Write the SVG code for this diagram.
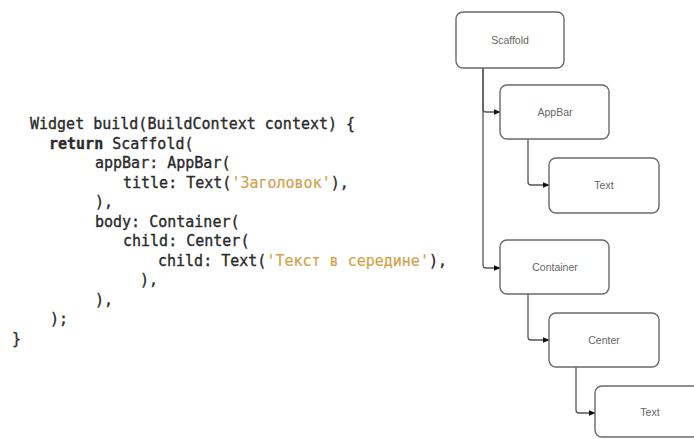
<svg xmlns="http://www.w3.org/2000/svg" width="694" height="439" viewBox="0 0 694 439">
<style>
.code{font-family:"DejaVu Sans Mono","Liberation Mono",monospace;font-size:15px;fill:#2b2b2b;stroke:#2b2b2b;stroke-width:0.35;white-space:pre}
.kw{font-weight:bold}
.str{fill:#d2a24c;stroke:#d2a24c;stroke-width:0.2}
.node rect{fill:#fff;stroke:#6a6a6a;stroke-width:1.4}
.node text{font-family:"Liberation Sans",Arial,sans-serif;font-size:10.5px;fill:#666;text-anchor:middle;dominant-baseline:central}
.edge{fill:none;stroke:#555;stroke-width:1.3}
</style>
<defs>
<marker id="arr" viewBox="0 0 10 10" refX="9" refY="5" markerWidth="7" markerHeight="7" orient="auto" markerUnits="userSpaceOnUse">
<path d="M0,1 L10,5 L0,9 Z" fill="#111"/>
</marker>
</defs>
<rect width="694" height="439" fill="#fff"/>
<g id="code">
<text class="code" x="30" y="129">Widget build(BuildContext context) {</text>
<text class="code" x="49" y="148.5"><tspan class="kw">return</tspan> Scaffold(</text>
<text class="code" x="95" y="168">appBar: AppBar(</text>
<text class="code" x="123" y="187.5">title: Text(<tspan class="str">'Заголовок'</tspan>),</text>
<text class="code" x="95" y="207">),</text>
<text class="code" x="95" y="226.5">body: Container(</text>
<text class="code" x="123" y="246">child: Center(</text>
<text class="code" x="158" y="265.5">child: Text(<tspan class="str">'Текст в середине'</tspan>),</text>
<text class="code" x="140" y="285">),</text>
<text class="code" x="95" y="304.5">),</text>
<text class="code" x="50" y="324">);</text>
<text class="code" x="12" y="343.5">}</text>
</g>
<g id="connectors">
<path class="edge" d="M483,68 V109 Q483,112 486,112 H500" marker-end="url(#arr)"/>
<path class="edge" d="M483,68 V265 Q483,268 486,268 H500" marker-end="url(#arr)"/>
<path class="edge" d="M528,139 V182 Q528,185 531,185 H549" marker-end="url(#arr)"/>
<path class="edge" d="M528,294 V337 Q528,340 531,340 H549" marker-end="url(#arr)"/>
<path class="edge" d="M576,367 V410 Q576,413 579,413 H595" marker-end="url(#arr)"/>
</g>
<g id="scaffold" class="node"><rect x="456" y="12" width="108" height="56" rx="7"/><text x="510" y="40">Scaffold</text></g>
<g id="appbar" class="node"><rect x="500" y="85" width="109" height="54" rx="7"/><text x="555" y="112">AppBar</text></g>
<g id="text1" class="node"><rect x="549" y="158" width="110" height="55" rx="7"/><text x="604" y="185">Text</text></g>
<g id="container" class="node"><rect x="500" y="240" width="109" height="54" rx="7"/><text x="555" y="267">Container</text></g>
<g id="center" class="node"><rect x="549" y="313" width="110" height="54" rx="7"/><text x="604" y="340">Center</text></g>
<g id="text2" class="node"><rect x="595" y="386" width="110" height="51" rx="7"/><text x="650" y="412">Text</text></g>
</svg>
